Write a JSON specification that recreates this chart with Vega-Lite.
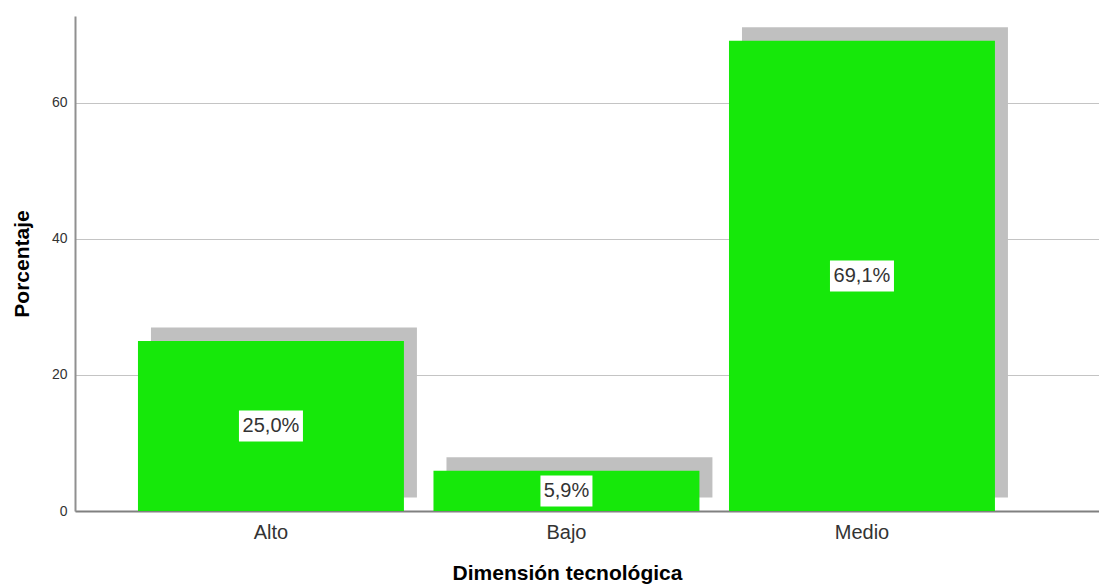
{
  "$schema": "https://vega.github.io/schema/vega-lite/v6.json",
  "width": 1024,
  "height": 495,
  "autosize": {"type": "none"},
  "padding": {"left": 75, "top": 16, "right": 0, "bottom": 74},
  "background": "white",
  "config": {
    "font": "Liberation Sans",
    "view": {"stroke": null},
    "axis": {"labelFont": "Liberation Sans", "titleFont": "Liberation Sans"},
    "axisY": {
      "grid": true,
      "gridColor": "#c4c4c4",
      "gridWidth": 1,
      "ticks": false,
      "labelPadding": 8,
      "labelFontSize": 14,
      "labelColor": "#333333",
      "domainColor": "#909090",
      "domainWidth": 2,
      "titleFontSize": 21,
      "titleFontWeight": "bold",
      "titleColor": "#000000",
      "titlePadding": 19
    },
    "axisX": {
      "labelAngle": 0,
      "labelFontSize": 20,
      "labelColor": "#333333",
      "labelPadding": 11,
      "ticks": false,
      "grid": false,
      "domainColor": "#808080",
      "domainWidth": 2,
      "titleFontSize": 21,
      "titleFontWeight": "bold",
      "titleColor": "#000000",
      "titlePadding": 20,
      "titleX": 492
    }
  },
  "data": {
    "values": [
      {"cat": "Alto", "value": 25.0, "label": "25,0%"},
      {"cat": "Bajo", "value": 5.9, "label": "5,9%"},
      {"cat": "Medio", "value": 69.1, "label": "69,1%"}
    ]
  },
  "encoding": {
    "x": {
      "field": "cat",
      "type": "nominal",
      "sort": null,
      "title": "Dimensión tecnológica",
      "scale": {"paddingInner": 0.1, "paddingOuter": 0.2826, "align": 0.377}
    }
  },
  "layer": [
    {
      "mark": {"type": "bar", "color": "#c0c0c0", "xOffset": 13, "yOffset": -13.5},
      "encoding": {
        "y": {
          "field": "value",
          "type": "quantitative",
          "title": "Porcentaje",
          "scale": {"domain": [0, 72.75], "nice": false},
          "axis": {"values": [0, 20, 40, 60]}
        }
      }
    },
    {
      "mark": {"type": "bar", "color": "#16e80a"},
      "encoding": {
        "y": {"field": "value", "type": "quantitative", "title": "Porcentaje"}
      }
    },
    {
      "transform": [{"calculate": "datum.value/2", "as": "mid"}],
      "mark": {"type": "rect", "color": "white", "height": 31, "width": {"expr": "length(datum.label)*12+4"}},
      "encoding": {
        "y": {"field": "mid", "type": "quantitative", "title": "Porcentaje"}
      }
    },
    {
      "transform": [{"calculate": "datum.value/2", "as": "mid"}],
      "mark": {"type": "text", "fontSize": 20, "color": "#333333", "font": "Liberation Sans"},
      "encoding": {
        "y": {"field": "mid", "type": "quantitative", "title": "Porcentaje"},
        "text": {"field": "label"}
      }
    }
  ]
}
